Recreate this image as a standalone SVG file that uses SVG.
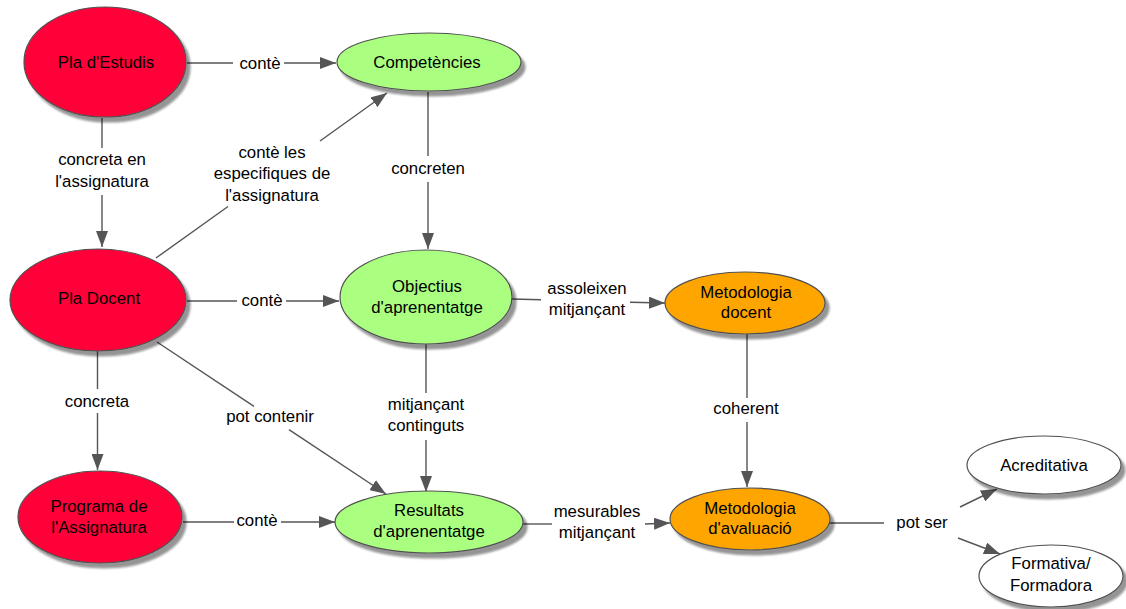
<svg xmlns="http://www.w3.org/2000/svg" width="1126" height="609" viewBox="0 0 1126 609">
  <style>
    .n { stroke: #505050; stroke-width: 1.2; filter: url(#shadow); }
    .red { fill: #ff0037; }
    .green { fill: #aaff80; }
    .orange { fill: #ffa500; }
    .white { fill: #ffffff; }
    text { font-family: "Liberation Sans", Arial, sans-serif; font-size: 16.8px; fill: #000; text-anchor: middle; }
    .c line { stroke: #555555; stroke-width: 1.4; }
    .c line.a { marker-end: url(#arrow); }
  </style>
  <defs>
    <filter id="shadow" x="-20%" y="-20%" width="150%" height="150%">
      <feGaussianBlur in="SourceAlpha" stdDeviation="1.1" result="b"/>
      <feOffset in="b" dx="4" dy="5" result="o"/>
      <feComponentTransfer in="o" result="s"><feFuncA type="linear" slope="0.42"/></feComponentTransfer>
      <feMerge><feMergeNode in="s"/><feMergeNode in="SourceGraphic"/></feMerge>
    </filter>
    <marker id="arrow" viewBox="0 0 16 12" refX="16" refY="6" markerWidth="16" markerHeight="12" markerUnits="userSpaceOnUse" orient="auto">
      <path d="M0,0 L16,6 L0,12 Z" fill="#555555"/>
    </marker>
  </defs>

  <!-- connectors -->
  <g id="connectors" class="c">
    <!-- Pla d'Estudis -> Competències -->
    <line x1="187" y1="63" x2="233" y2="63"/>
    <line class="a" x1="284" y1="63" x2="336" y2="63"/>
    <text x="260" y="69">contè</text>
    <!-- Pla d'Estudis -> Pla Docent -->
    <line x1="102" y1="118" x2="102" y2="148"/>
    <line class="a" x1="102" y1="195" x2="102" y2="247"/>
    <text x="102" y="165">concreta en</text>
    <text x="102" y="187">l'assignatura</text>
    <!-- Pla Docent -> Competències -->
    <line x1="156" y1="258" x2="228" y2="206.5"/>
    <line class="a" x1="320" y1="141" x2="387" y2="93"/>
    <text x="272" y="158">contè les</text>
    <text x="272" y="179">especifiques de</text>
    <text x="272" y="201">l'assignatura</text>
    <!-- Competències -> Objectius -->
    <line x1="428" y1="92" x2="428" y2="156"/>
    <line class="a" x1="428" y1="182" x2="428" y2="249"/>
    <text x="428" y="174">concreten</text>
    <!-- Pla Docent -> Objectius -->
    <line x1="187" y1="301" x2="237" y2="301"/>
    <line class="a" x1="286" y1="301" x2="339" y2="301"/>
    <text x="262" y="306">contè</text>
    <!-- Objectius -> Metodologia docent -->
    <line x1="512" y1="299" x2="541" y2="299.8"/>
    <line class="a" x1="630" y1="302.3" x2="665" y2="303"/>
    <text x="587" y="294">assoleixen</text>
    <text x="587" y="315">mitjançant</text>
    <!-- Pla Docent -> Programa -->
    <line x1="97.5" y1="351" x2="97.5" y2="389"/>
    <line class="a" x1="97.5" y1="413" x2="97.5" y2="470"/>
    <text x="97" y="407">concreta</text>
    <!-- Pla Docent -> Resultats -->
    <line x1="157" y1="342" x2="254" y2="406.4"/>
    <line class="a" x1="289" y1="429.6" x2="386" y2="494"/>
    <text x="270" y="422">pot contenir</text>
    <!-- Objectius -> Resultats -->
    <line x1="426" y1="344" x2="426" y2="393"/>
    <line class="a" x1="426" y1="440" x2="426" y2="492"/>
    <text x="426" y="410">mitjançant</text>
    <text x="426" y="431">continguts</text>
    <!-- Programa -> Resultats -->
    <line x1="183" y1="522" x2="234" y2="522"/>
    <line class="a" x1="281" y1="522" x2="335" y2="522"/>
    <text x="257" y="526">contè</text>
    <!-- Resultats -> Metodologia d'avaluació -->
    <line x1="523" y1="524" x2="552" y2="524"/>
    <line class="a" x1="645" y1="524" x2="670" y2="523"/>
    <text x="597" y="517">mesurables</text>
    <text x="597" y="538">mitjançant</text>
    <!-- Metodologia docent -> Metodologia d'avaluació -->
    <line x1="747" y1="334" x2="747" y2="398"/>
    <line class="a" x1="747" y1="422" x2="747" y2="487"/>
    <text x="746" y="414">coherent</text>
    <!-- Metodologia d'avaluació -> Acreditativa / Formativa -->
    <line x1="829" y1="523" x2="884" y2="523"/>
    <text x="922" y="528">pot ser</text>
    <line class="a" x1="960" y1="507" x2="997" y2="489"/>
    <line class="a" x1="958" y1="538" x2="1000" y2="554"/>
  </g>

  <!-- nodes -->
  <g id="pla-estudis">
    <ellipse class="n red" cx="105" cy="62" rx="81" ry="55"/>
    <text x="106" y="68">Pla d'Estudis</text>
  </g>
  <g id="competencies">
    <ellipse class="n green" cx="429" cy="62" rx="92" ry="29"/>
    <text x="427" y="68">Competències</text>
  </g>
  <g id="pla-docent">
    <ellipse class="n red" cx="98" cy="300" rx="88" ry="51"/>
    <text x="99" y="304">Pla Docent</text>
  </g>
  <g id="objectius">
    <ellipse class="n green" cx="426" cy="297" rx="86" ry="47"/>
    <text x="427" y="292">Objectius</text>
    <text x="427" y="313">d'aprenentatge</text>
  </g>
  <g id="programa">
    <ellipse class="n red" cx="100" cy="517" rx="82" ry="46"/>
    <text x="99" y="512">Programa de</text>
    <text x="99" y="533">l'Assignatura</text>
  </g>
  <g id="resultats">
    <ellipse class="n green" cx="429" cy="522" rx="94" ry="31"/>
    <text x="429" y="516">Resultats</text>
    <text x="429" y="537">d'aprenentatge</text>
  </g>
  <g id="metodologia-docent">
    <ellipse class="n orange" cx="745" cy="303" rx="80" ry="31"/>
    <text x="746" y="298">Metodologia</text>
    <text x="746" y="318">docent</text>
  </g>
  <g id="metodologia-avaluacio">
    <ellipse class="n orange" cx="750" cy="519" rx="80" ry="31"/>
    <text x="750" y="514">Metodologia</text>
    <text x="750" y="534">d'avaluació</text>
  </g>
  <g id="acreditativa">
    <ellipse class="n white" cx="1044" cy="465" rx="77" ry="29"/>
    <text x="1044" y="471">Acreditativa</text>
  </g>
  <g id="formativa">
    <ellipse class="n white" cx="1051" cy="576" rx="72" ry="31"/>
    <text x="1051" y="569">Formativa/</text>
    <text x="1051" y="591">Formadora</text>
  </g>
</svg>
